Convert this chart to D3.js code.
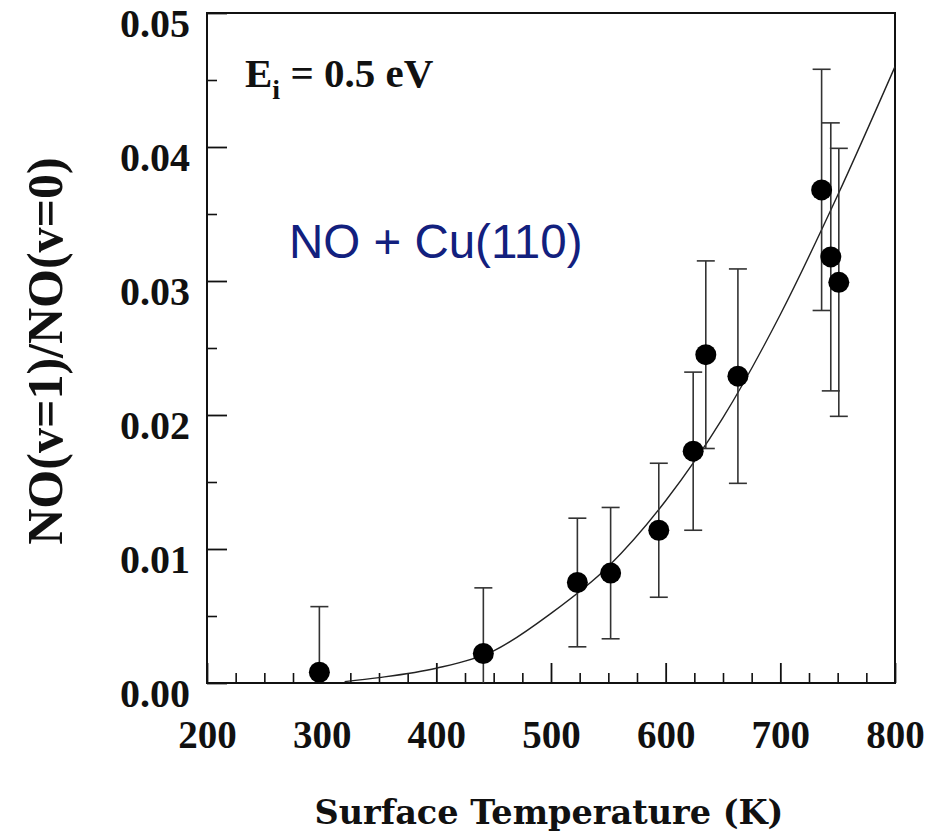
<!DOCTYPE html>
<html lang="en">
<head>
<meta charset="UTF-8">
<title>NO + Cu(110) vibrational excitation</title>
<script src="https://d3js.org/d3.v7.min.js"></script>
<style>
    body { margin: 0; background: #fff; }
    svg { display: block; }
    .tick-label text { font-family: "Liberation Serif", "Times New Roman", serif; font-weight: bold; fill: #111; }
    .axis-title { font-family: "DejaVu Serif", serif; font-weight: bold; fill: #111; }
</style>
</head>
<body>
<svg id="chart" width="943" height="838"></svg>
<script>
// measured points
const temps  = [298, 441, 523, 552, 594, 624, 635, 663, 736, 744, 751];
const ratios = [0.0008, 0.0022, 0.0075, 0.0082, 0.0114, 0.0173, 0.0245, 0.0229, 0.0368, 0.0318, 0.0299];
const errors = [0.0049, 0.0049, 0.0048, 0.0049, 0.0050, 0.0059, 0.0070, 0.0080, 0.0090, 0.0100, 0.0100];

// fitted curve
const curveT = [320, 350, 400, 450, 500, 550, 600, 650, 700, 750, 800];
const curveV = [0.0001, 0.0004, 0.0011, 0.0024, 0.0052, 0.0087, 0.0136, 0.0198, 0.0275, 0.0364, 0.0460];

const xTicks = [200, 300, 400, 500, 600, 700, 800];
const yTicks = [0.00, 0.01, 0.02, 0.03, 0.04, 0.05];

const svg = d3.select("#chart");
const plotL = 207, plotR = 895, plotT = 13, plotB = 683;

const x = d3.scaleLinear().domain([200, 800]).range([plotL, plotR]);
const y = d3.scaleLinear().domain([0, 0.05]).range([plotB, plotT]);

// minor ticks
const xMinor = d3.range(225, 800, 25).filter(v => v % 100 !== 0);
const yMinor = d3.range(0.005, 0.05, 0.01);

svg.append("g")
    .attr("transform", `translate(0,${plotB})`)
    .call(d3.axisBottom(x).tickValues(xMinor).tickSize(-10).tickFormat(""))
    .call(g => g.select(".domain").remove())
    .selectAll("line").attr("stroke", "#111").attr("stroke-width", 1.6);

svg.append("g")
    .attr("class", "tick-label")
    .attr("transform", `translate(0,${plotB})`)
    .call(d3.axisBottom(x).tickValues(xTicks).tickSize(-20).tickPadding(37).tickFormat(d3.format("d")))
    .call(g => g.select(".domain").remove())
    .call(g => g.selectAll("line").attr("stroke", "#111").attr("stroke-width", 1.8))
    .selectAll("text").style("font-size", "39px");

svg.append("g")
    .attr("transform", `translate(${plotL},0)`)
    .call(d3.axisLeft(y).tickValues(yMinor).tickSize(-10).tickFormat(""))
    .call(g => g.select(".domain").remove())
    .selectAll("line").attr("stroke", "#111").attr("stroke-width", 1.6);

svg.append("g")
    .attr("class", "tick-label")
    .attr("transform", `translate(${plotL},0)`)
    .call(d3.axisLeft(y).tickValues(yTicks).tickSize(-20).tickPadding(17).tickFormat(d3.format(".2f")))
    .call(g => g.select(".domain").remove())
    .call(g => g.selectAll("line").attr("stroke", "#111").attr("stroke-width", 1.8))
    .selectAll("text").style("font-size", "40px").attr("y", 11);

// frame
svg.append("rect")
    .attr("x", plotL).attr("y", plotT)
    .attr("width", plotR - plotL).attr("height", plotB - plotT)
    .attr("fill", "none").attr("stroke", "#111").attr("stroke-width", 2);

// curve
const line = d3.line()
    .x((d, i) => x(curveT[i]))
    .y(d => y(d))
    .curve(d3.curveMonotoneX);

svg.append("path")
    .datum(curveV)
    .attr("fill", "none")
    .attr("stroke", "#222")
    .attr("stroke-width", 1.4)
    .attr("d", line);

// error bars
const pts = temps.map((t, i) => ({ t: t, v: ratios[i], e: errors[i] }));
const capW = 9;

const bars = svg.append("g").attr("stroke", "#333").attr("stroke-width", 1.6);
pts.forEach(d => {
    const lo = Math.max(0, d.v - d.e), hi = d.v + d.e;
    bars.append("line")
        .attr("x1", x(d.t)).attr("x2", x(d.t))
        .attr("y1", y(lo)).attr("y2", y(hi));
    bars.append("line")
        .attr("x1", x(d.t) - capW).attr("x2", x(d.t) + capW)
        .attr("y1", y(hi)).attr("y2", y(hi));
    if (d.v - d.e > 0) {
        bars.append("line")
            .attr("x1", x(d.t) - capW).attr("x2", x(d.t) + capW)
            .attr("y1", y(lo)).attr("y2", y(lo));
    }
});

svg.append("g")
    .selectAll("circle")
    .data(pts)
    .enter().append("circle")
    .attr("cx", d => x(d.t))
    .attr("cy", d => y(d.v))
    .attr("r", 10.5)
    .attr("fill", "#000");

// labels
const ei = svg.append("text")
    .attr("x", 245).attr("y", 87)
    .style("font-family", "'Liberation Serif', 'Times New Roman', serif")
    .style("font-weight", "bold")
    .style("font-size", "41px")
    .attr("fill", "#111");
ei.append("tspan").text("E");
ei.append("tspan").attr("dy", 12).style("font-size", "28px").text("i");
ei.append("tspan").attr("dy", -12).text(" = 0.5 eV");

svg.append("text")
    .attr("x", 289).attr("y", 258)
    .style("font-family", "'Liberation Sans', Arial, sans-serif")
    .style("font-size", "47.5px")
    .attr("fill", "#12207e")
    .text("NO + Cu(110)");

svg.append("text")
    .attr("class", "axis-title")
    .attr("x", 549).attr("y", 824)
    .attr("text-anchor", "middle")
    .style("font-size", "33.5px")
    .text("Surface Temperature (K)");

svg.append("text")
    .attr("transform", "translate(62,351) rotate(-90)")
    .attr("text-anchor", "middle")
    .style("font-family", "'Liberation Serif', 'Times New Roman', serif")
    .style("font-weight", "bold")
    .style("font-size", "50px")
    .attr("fill", "#111")
    .text("NO(v=1)/NO(v=0)");
</script>
</body>
</html>
